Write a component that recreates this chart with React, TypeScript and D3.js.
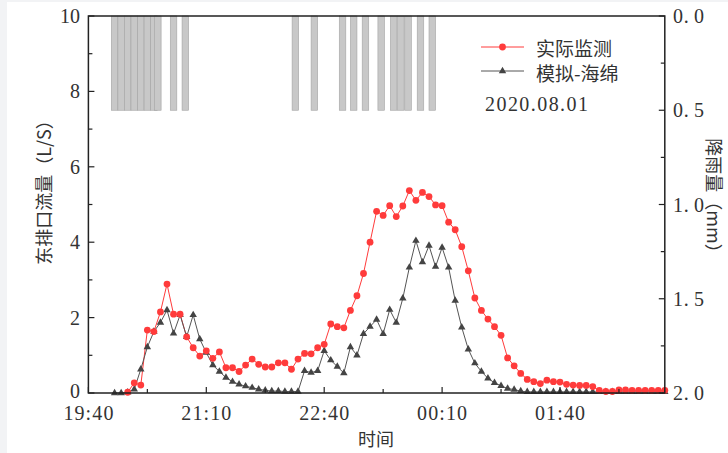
import React from 'react';
import * as d3 from 'd3';

// time axis: minutes after 19:40
const xTickMinutes = [0, 90, 180, 270, 360];
const xTickLabels = ['19:40', '21:10', '22:40', '00:10', '01:40'];
const xMinorMinutes = [45, 135, 225, 315, 405];
const yTicks = [0, 2, 4, 6, 8, 10];
const yMinor = [1, 3, 5, 7, 9];
const rainTicks = [0, 0.5, 1, 1.5, 2];
const rainMinor = [0.25, 0.75, 1.25, 1.75];

// samples every 5 min, starting 20:00
const sampleMinutes = d3.range(20, 441, 5);

// 实际监测 (L/S)
const measured: (number | null)[] = [
  null, null, 0.02, 0.27, 0.21, 1.67, 1.63, 2.15, 2.89, 2.09,
  2.09, 1.49, 1.2, 0.98, 1.12, 0.92, 1.09, 0.67, 0.67, 0.57,
  0.74, 0.9, 0.76, 0.69, 0.69, 0.8, 0.8, 0.63, 0.9, 1.05,
  1.04, 1.2, 1.29, 1.83, 1.76, 1.73, 2.19, 2.58, 3.17, 4.0,
  4.82, 4.71, 4.97, 4.68, 4.96, 5.37, 5.11, 5.32, 5.21, 4.99,
  4.97, 4.53, 4.33, 3.88, 3.24, 2.52, 2.19, 1.96, 1.76, 1.53,
  0.93, 0.72, 0.52, 0.36, 0.3, 0.25, 0.34, 0.3, 0.29, 0.23,
  0.21, 0.2, 0.2, 0.17, 0.07, 0.04, 0.04, 0.08, 0.08, 0.07,
  0.07, 0.07, 0.07, 0.07, 0.07,
];

// 模拟-海绵 (L/S)
const simulated: number[] = [
  0, 0, 0.02, 0.1, 0.63, 1.22, 1.63, 1.87, 2.2, 1.58,
  2.07, 1.49, 2.07, 1.43, 1.07, 0.74, 0.57, 0.41, 0.3, 0.23,
  0.18, 0.14, 0.1, 0.07, 0.05, 0.05, 0.04, 0.04, 0.04, 0.59,
  0.54, 0.59, 1.12, 0.87, 0.7, 0.53, 1.22, 1.0, 1.57, 1.76,
  1.95, 1.57, 2.21, 1.87, 2.51, 3.33, 4.04, 3.47, 3.91, 3.35,
  3.86, 3.33, 2.45, 1.74, 1.16, 0.79, 0.57, 0.39, 0.27, 0.19,
  0.12, 0.09, 0.05, 0.03, 0.03, 0.03, 0.03, 0.03, 0.03, 0.03,
  0.03, 0.03, 0.03, 0.03, 0.03, 0.03, 0.03, 0.03, 0.03, 0.03,
  0.03, 0.03, 0.03, 0.03, 0.03,
];

// rainfall record (minutes after 19:40, mm)
const rainMinutes = [20, 25, 30, 35, 40, 45, 50, 53, 65, 74, 158, 172.5, 194, 202.5, 211.5, 223.5, 233, 238.5, 244, 253.5, 262.5];
const rainAmounts = [0.5, 0.5, 0.5, 0.5, 0.5, 0.5, 0.5, 0.5, 0.5, 0.5, 0.5, 0.5, 0.5, 0.5, 0.5, 0.5, 0.5, 0.5, 0.5, 0.5, 0.5];
const RAIN_WIDTH = 5;

const NUM_FONT = '"Liberation Serif", "Times New Roman", serif';
const CJK_FONT = '"Noto Sans CJK SC", sans-serif';
const TEXT = '#333';
const RED = '#ff3b3b';
const GREY = '#444';

const App = () => {
  const width = 728;
  const height = 453;
  const left = 88.4, right = 664.8, top = 16, bottom = 393;

  const x = d3.scaleLinear().domain([0, 440]).range([left, right]);
  const y = d3.scaleLinear().domain([0, 10]).range([bottom, top]);
  const yRain = d3.scaleLinear().domain([0, 2]).range([top, bottom]);

  const line = d3.line<number | null>()
    .defined(d => d != null)
    .x((_, i) => x(sampleMinutes[i]))
    .y(d => y(d as number));

  const tri = d3.symbol().type(d3.symbolTriangle).size(24)();
  const fmtRain = (v: number) => d3.format('.1f')(v).replace('.', '.\u2009');

  return (
    <svg width={width} height={height} style={{ position: 'absolute', left: 0, top: 0, background: '#fff' }}>
      <rect x={0} y={0} width={7} height={height} fill="#f2f3f5" />
      <rect x={0} y={0} width={width} height={2} fill="#f2f3f5" />

      {/* rainfall bars */}
      {rainMinutes.map((m, i) => (
        <rect key={'r' + i}
          x={x(m - RAIN_WIDTH / 2)} y={yRain(0)}
          width={x(m + RAIN_WIDTH / 2) - x(m - RAIN_WIDTH / 2)}
          height={yRain(rainAmounts[i]) - yRain(0)}
          fill="#c8c8c8" stroke="#a3a3a3" strokeWidth={0.6} />
      ))}

      {/* series lines */}
      <path d={line(measured) || ''} fill="none" stroke={RED} strokeWidth={1} />
      <path d={line(simulated) || ''} fill="none" stroke="#555" strokeWidth={1} />

      {simulated.map((v, i) => (
        <path key={'s' + i} d={tri || ''} transform={`translate(${x(sampleMinutes[i])},${y(v)})`} fill={GREY} />
      ))}
      {measured.map((v, i) => v == null ? null : (
        <circle key={'m' + i} cx={x(sampleMinutes[i])} cy={y(v)} r={3.4} fill={RED} />
      ))}

      {/* frame */}
      <rect x={left} y={top} width={right - left} height={bottom - top} fill="none" stroke="#222" strokeWidth={1.5} />

      {/* left axis */}
      {yTicks.map(t => (
        <g key={'yt' + t}>
          <line x1={left} x2={left + 6} y1={y(t)} y2={y(t)} stroke="#222" strokeWidth={1.2} />
          <text x={80} y={y(t) - (t === 0 ? 2 : 0)} textAnchor="end" dominantBaseline="central" fontFamily={NUM_FONT} fontSize={20} fill={TEXT}>{t}</text>
        </g>
      ))}
      {yMinor.map(t => (
        <line key={'ym' + t} x1={left} x2={left + 4} y1={y(t)} y2={y(t)} stroke="#222" strokeWidth={1.2} />
      ))}

      {/* right axis */}
      {rainTicks.map(t => (
        <g key={'rt' + t}>
          <line x1={right - 6} x2={right} y1={yRain(t)} y2={yRain(t)} stroke="#222" strokeWidth={1.2} />
          <text x={673} y={yRain(t)} dominantBaseline="central" fontFamily={NUM_FONT} fontSize={20} fill={TEXT}
            textLength={31} lengthAdjust="spacing">{fmtRain(t)}</text>
        </g>
      ))}
      {rainMinor.map(t => (
        <line key={'rm' + t} x1={right - 4} x2={right} y1={yRain(t)} y2={yRain(t)} stroke="#222" strokeWidth={1.2} />
      ))}

      {/* bottom axis */}
      {xTickMinutes.map((m, i) => (
        <g key={'xt' + m}>
          <line x1={x(m)} x2={x(m)} y1={bottom} y2={bottom - 6} stroke="#222" strokeWidth={1.2} />
          <text x={x(m)} y={420} textAnchor="middle" fontFamily={NUM_FONT} fontSize={20} fill={TEXT}
            textLength={50} lengthAdjust="spacing">{xTickLabels[i]}</text>
        </g>
      ))}
      {xMinorMinutes.map(m => (
        <line key={'xm' + m} x1={x(m)} x2={x(m)} y1={bottom} y2={bottom - 4} stroke="#222" strokeWidth={1.2} />
      ))}

      {/* axis titles */}
      <text x={376} y={438} textAnchor="middle" dominantBaseline="central" fontFamily={CJK_FONT} fontSize={18} fill={TEXT}>时间</text>
      <text transform="translate(43,188) rotate(-90)" textAnchor="middle" dominantBaseline="central" fontFamily={CJK_FONT} fontSize={18} fill={TEXT}>东排口流量（L/S）</text>
      <text transform="translate(715,200) rotate(90)" textAnchor="middle" dominantBaseline="central" fontFamily={CJK_FONT} fontSize={18} fill={TEXT}>降雨量（mm）</text>

      {/* legend */}
      <line x1={481} x2={524} y1={47} y2={47} stroke={RED} strokeWidth={1} />
      <circle cx={502.5} cy={47} r={3.4} fill={RED} />
      <text x={536} y={47} dominantBaseline="central" fontFamily={CJK_FONT} fontSize={19} fill={TEXT}>实际监测</text>
      <line x1={481} x2={524} y1={71} y2={71} stroke="#555" strokeWidth={1} />
      <path d={tri || ''} transform="translate(502.5,71)" fill={GREY} />
      <text x={536} y={72} dominantBaseline="central" fontFamily={CJK_FONT} fontSize={19} fill={TEXT}>模拟-海绵</text>
      <text x={485} y={111} fontFamily={NUM_FONT} fontSize={20} fill={TEXT} textLength={103} lengthAdjust="spacing">2020.08.01</text>
    </svg>
  );
};

export default App;
